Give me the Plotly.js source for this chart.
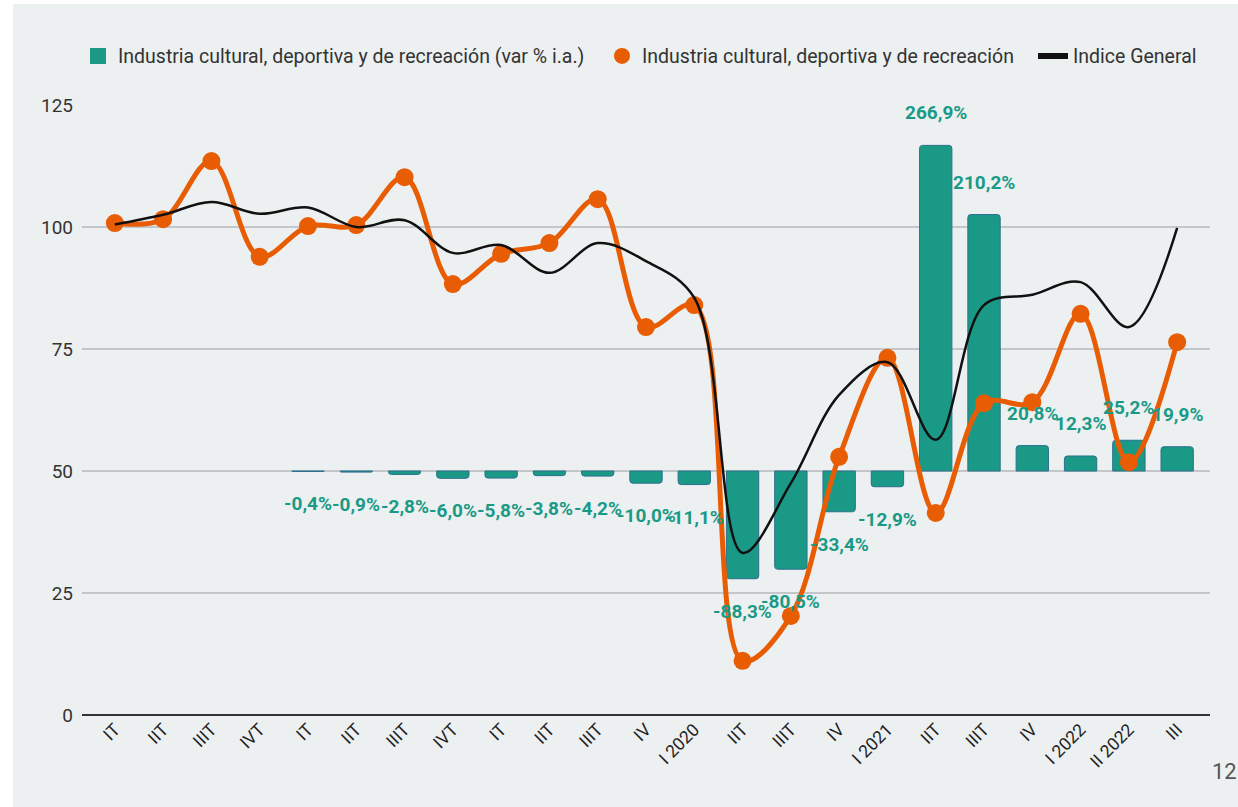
<!DOCTYPE html>
<html>
<head>
<meta charset="utf-8">
<script src="https://cdn.plot.ly/plotly-3.0.1.min.js"></script>
<style>
  html, body { margin: 0; padding: 0; background: #ffffff; width: 1238px; height: 807px; overflow: hidden; }
  #chart { position: absolute; left: 13px; top: 4px; width: 1225px; height: 803px; background: #ecf0f1; }
</style>
</head>
<body>
<div id="chart"></div>
<script>
// Category tick labels (quarters)
const tickLabels = ["IT","IIT","IIIT","IVT","IT","IIT","IIIT","IVT","IT","IIT","IIIT","IV",
  "I 2020","IIT","IIIT","IV","I 2021","IIT","IIIT","IV","I 2022","II 2022","III"];

// Year-on-year variation (%) of the cultural, sports and recreation industry
const varPct = [null, null, null, null, -0.4, -0.9, -2.8, -6.0, -5.8, -3.8, -4.2, -10.0,
  -11.1, -88.3, -80.5, -33.4, -12.9, 266.9, 210.2, 20.8, 12.3, 25.2, 19.9];

// Index: cultural, sports and recreation industry
const indiceCultura = [100.8, 101.6, 113.5, 93.9, 100.2, 100.4, 110.2, 88.3, 94.5, 96.7, 105.7, 79.5,
  84.0, 11.1, 20.3, 52.9, 73.2, 41.4, 63.9, 64.1, 82.2, 51.8, 76.4];

// General index
const indiceGeneral = [100.5, 102.5, 105.1, 102.7, 104.0, 100.0, 101.4, 94.7, 96.3, 90.6, 96.7, 93.0,
  85.5, 33.2, 47.5, 65.6, 72.3, 56.4, 84.0, 86.1, 88.7, 79.5, 99.8];

const names = {
  bars: "Industria cultural, deportiva y de recreación (var % i.a.)",
  cultura: "Industria cultural, deportiva y de recreación",
  general: "Indice General"
};

const xIdx = tickLabels.map((_, i) => i);
const teal = "#1a9a86";
const orange = "#e85d04";
const fontFam = "Roboto, 'Noto Sans', sans-serif";

const fmt = v => v.toFixed(1).replace(".", ",") + "%";

const traces = [
  {
    type: "bar", x: xIdx, y: varPct, yaxis: "y", name: names.bars,
    marker: { color: teal, line: { color: "#2d6f8e", width: 1 } },
    hoverinfo: "skip", showlegend: false
  },
  {
    type: "scatter", mode: "lines+markers", x: xIdx, y: indiceCultura, yaxis: "y2", name: names.cultura,
    line: { color: orange, width: 5, shape: "spline", smoothing: 1 },
    marker: { color: orange, size: 18 },
    showlegend: false
  },
  {
    type: "scatter", mode: "lines", x: xIdx, y: indiceGeneral, yaxis: "y2", name: names.general,
    line: { color: "#111111", width: 2.5, shape: "spline", smoothing: 1 },
    showlegend: false
  },
  // legend-only entries
  { type: "scatter", mode: "markers", x: [null], y: [null], yaxis: "y2", name: names.bars,
    marker: { color: teal, size: 20, symbol: "square" }, showlegend: true, legend: "legend" },
  { type: "scatter", mode: "markers", x: [null], y: [null], yaxis: "y2", name: names.cultura,
    marker: { color: orange, size: 20 }, showlegend: true, legend: "legend2" },
  { type: "scatter", mode: "lines", x: [null], y: [null], yaxis: "y2", name: names.general,
    line: { color: "#111111", width: 6 }, showlegend: true, legend: "legend3" }
];

const annotations = [];
varPct.forEach((v, i) => {
  if (v === null) return;
  annotations.push({
    x: i, y: v, xref: "x", yref: "y",
    text: fmt(v), showarrow: false,
    yanchor: v >= 0 ? "bottom" : "top",
    yshift: v >= 0 ? 19 : -19,
    font: { family: fontFam, size: 19, color: teal, weight: 700 },
    bgcolor: "rgba(0,0,0,0)"
  });
});
annotations.push({
  xref: "paper", yref: "paper", x: 1.0, y: -0.093, xanchor: "left", yanchor: "middle",
  text: "12", showarrow: false, font: { family: fontFam, size: 22, color: "#555555" }
});

const legendBase = {
  orientation: "h", xref: "container", xanchor: "left", y: 1.08, yanchor: "middle",
  font: { family: fontFam, size: 19.5, color: "#333333" }, bgcolor: "rgba(0,0,0,0)",
  itemwidth: 30
};

const layout = {
  width: 1225, height: 803,
  margin: { l: 69, r: 28, t: 101, b: 92, autoexpand: false },
  paper_bgcolor: "#ecf0f1", plot_bgcolor: "#ecf0f1",
  font: { family: fontFam, size: 18, color: "#333333" },
  showlegend: true,
  legend: Object.assign({}, legendBase, { x: 65 / 1225 }),
  legend2: Object.assign({}, legendBase, { x: 589 / 1225 }),
  legend3: Object.assign({}, legendBase, { x: 1020 / 1225 }),
  bargap: 0.33,
  barcornerradius: 3,
  xaxis: {
    range: [-0.68, 22.68], tickmode: "array", tickvals: xIdx, ticktext: tickLabels,
    tickangle: -45, showgrid: false, zeroline: false, showline: false, ticks: "",
    tickfont: { family: fontFam, size: 17.5, color: "#222222" }, fixedrange: true, automargin: false
  },
  yaxis: {
    range: [-200, 300], visible: false, showgrid: false, zeroline: false, automargin: false
  },
  yaxis2: {
    range: [0, 125], tickvals: [0, 25, 50, 75, 100, 125], overlaying: "y", side: "left",
    showgrid: true, gridcolor: "#c3c7c9", gridwidth: 1.5,
    zeroline: true, zerolinecolor: "#333333", zerolinewidth: 2,
    showline: false, ticks: "", ticklabelstandoff: 8,
    tickfont: { family: fontFam, size: 19, color: "#333333" },
    automargin: false
  },
  annotations: annotations
};

Plotly.newPlot("chart", traces, layout, { displayModeBar: false, staticPlot: true });
</script>
</body>
</html>
